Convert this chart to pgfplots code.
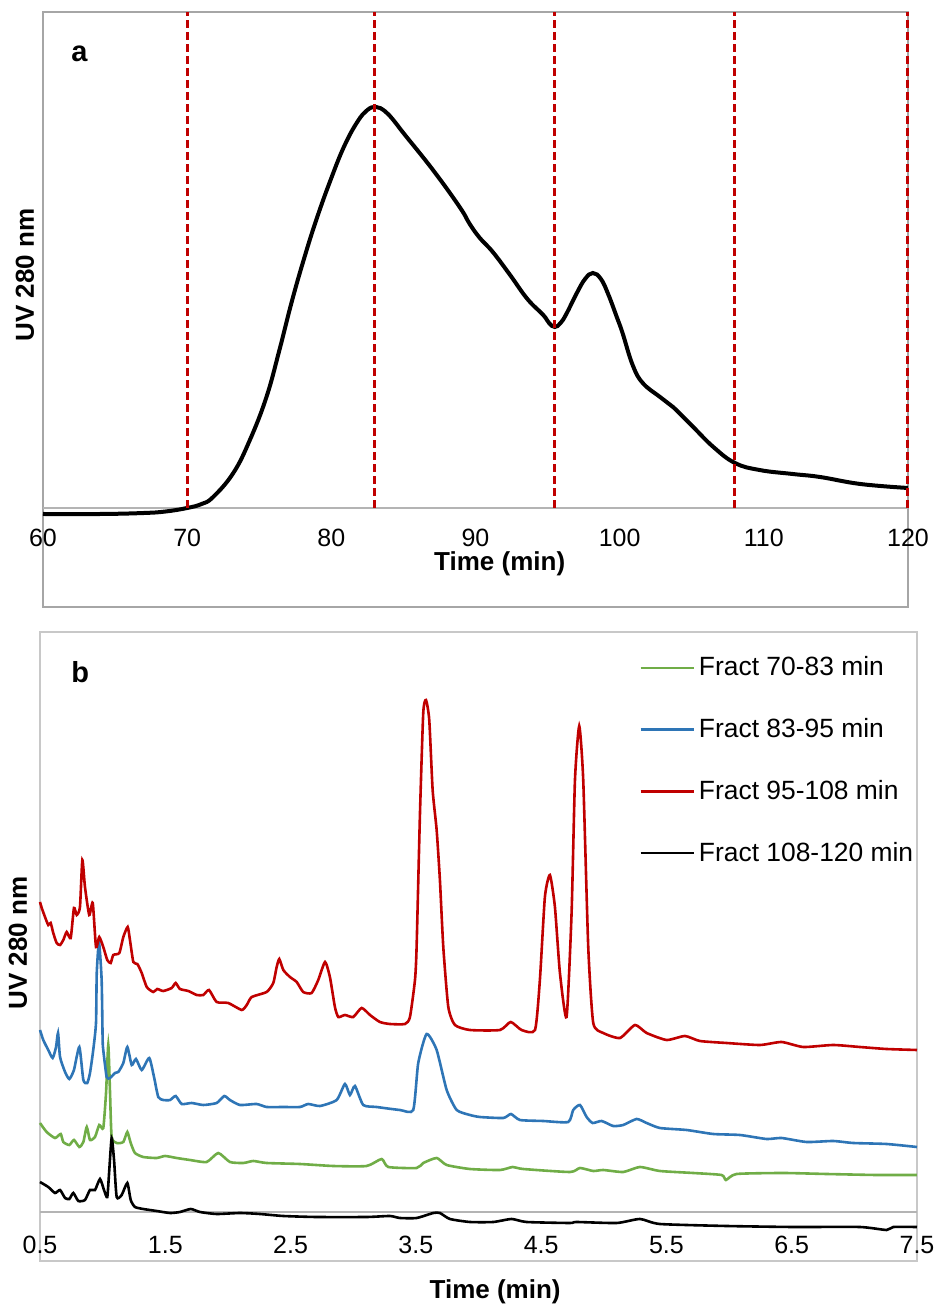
\documentclass[border=0pt]{standalone}
\usepackage{fontspec}
\setmainfont{Liberation Sans}
\usepackage{pgfplots}
\pgfplotsset{compat=1.18}
\definecolor{exred}{HTML}{C00000}
\definecolor{exblue}{HTML}{2E75B6}
\definecolor{exgreen}{HTML}{70AD47}
\definecolor{framea}{HTML}{A6A6A6}
\definecolor{frameb}{HTML}{C8C8C8}
\definecolor{zeroline}{HTML}{B4B4B4}

\begin{document}
\begin{tikzpicture}[x=1pt,y=1pt]
\useasboundingbox (0,0) rectangle (468.5,654);
% chart-area frames
\draw[framea, line width=0.75pt] (21.5,350.5) rectangle (454,648);
\draw[frameb, line width=0.75pt] (20,23.5) rectangle (458.5,338);

% ---------- panel a ----------
\begin{axis}[at={(21.5pt,394pt)}, anchor=south west, scale only axis,
 width=432.5pt, height=254pt, xmin=60, xmax=120, ymin=-12, ymax=496,
 clip=false, axis line style={draw=none}, ytick=\empty,
 xtick={60,70,80,90,100,110,120}, xticklabels={60,70,80,90,100,110,120},
 major tick length=0pt,
 tick label style={font=\fontsize{12.5}{15}\selectfont},
 xticklabel style={yshift=-1pt},
 xlabel={Time (min)}, ylabel={UV 280 nm},
 label style={font=\bfseries\fontsize{13}{15}\selectfont},
 xlabel style={at={(axis description cs:0.528,-0.0866)}, anchor=center},
 ylabel style={at={(axis description cs:-0.0208,0.482)}, anchor=center}]
\addplot[zeroline, line width=0.75pt] coordinates {(60,0) (120,0)};
\addplot[black, line width=2pt, smooth, tension=0.7] coordinates {
 (60,-6) (64,-6) (67,-5) (68.5,-3.5) (70,0) (71,4) (71.8,11) (73.2,35)
 (74.35,68) (75.5,111) (76.4,158) (77.25,206) (78.1,249) (79.0,290)
 (80.0,330) (80.9,362) (81.8,386) (82.5,398) (83.1,401) (83.7,397)
 (84.3,388) (85.0,375) (87.05,338)
 (88.9,301) (89.6,284) (90.3,270) (91.2,256) (92.4,233) (93.6,209)
 (94.7,193) (95.1,185) (95.5,181) (95.9,185) (96.3,194) (97.03,215)
 (97.6,229) (98.14,235) (98.7,229) (99.2,214)
 (99.8,191) (100.2,175) (100.9,143) (101.6,125) (102.8,111) (103.7,101)
 (105.1,81) (106.5,61) (108,45) (109.7,38) (112,34) (113.9,31)
 (116.7,24) (120,20)};
\addplot[exred, line width=1.5pt, dash pattern=on 4pt off 2pt] coordinates {(70,0) (70,496)};
\addplot[exred, line width=1.5pt, dash pattern=on 4pt off 2pt] coordinates {(83,0) (83,496)};
\addplot[exred, line width=1.5pt, dash pattern=on 4pt off 2pt] coordinates {(95.5,0) (95.5,496)};
\addplot[exred, line width=1.5pt, dash pattern=on 4pt off 2pt] coordinates {(108,0) (108,496)};
\addplot[exred, line width=1.5pt, dash pattern=on 4pt off 2pt] coordinates {(120,0) (120,496)};
\node[anchor=base west, inner sep=0pt, font=\bfseries\fontsize{14.5}{16}\selectfont]
 at (rel axis cs:0.0324,0.9035) {a};
\end{axis}

% ---------- panel b ----------
\begin{axis}[at={(20pt,38pt)}, anchor=south west, scale only axis,
 width=438.5pt, height=296pt, xmin=0.5, xmax=7.5, ymin=-20, ymax=572,
 clip=false, axis line style={draw=none}, ytick=\empty,
 xtick={0.5,1.5,2.5,3.5,4.5,5.5,6.5,7.5},
 xticklabels={0.5,1.5,2.5,3.5,4.5,5.5,6.5,7.5},
 major tick length=0pt,
 tick label style={font=\fontsize{12.5}{15}\selectfont},
 xticklabel style={yshift=1.5pt},
 xlabel={Time (min)}, ylabel={UV 280 nm},
 label style={font=\bfseries\fontsize{13}{15}\selectfont},
 xlabel style={at={(axis description cs:0.519,-0.101)}, anchor=center},
 ylabel style={at={(axis description cs:-0.0251,0.488)}, anchor=center},
 legend style={at={(rel axis cs:0.683,0.979)}, anchor=north west,
   draw=none, fill=none, inner sep=0pt, row sep=15.8pt, column sep=0pt,
   font=\fontsize{13.2}{15}\selectfont},
 legend cell align=left,
 legend image code/.code={\draw[#1] (0pt,0pt) -- (26.5pt,0pt);},
 every axis plot/.append style={line width=1.3pt, smooth, tension=0.35}]
\addplot[zeroline, line width=0.75pt, sharp plot, forget plot] coordinates {(0.5,0) (7.5,0)};
\addplot[exgreen] coordinates {
 (0.5,89) (0.553,80) (0.620,74) (0.665,78) (0.686,70) (0.734,67) (0.771,72)
 (0.814,65) (0.846,70) (0.873,85) (0.899,72) (0.939,75) (0.973,87) (1.005,84)
 (1.027,119) (1.045,167) (1.059,119) (1.072,75) (1.112,69) (1.165,70)
 (1.197,80) (1.224,69) (1.258,59) (1.324,55) (1.431,54) (1.498,56)
 (1.591,54) (1.697,52) (1.830,50) (1.923,59) (2.016,50) (2.123,49)
 (2.203,51) (2.309,49) (2.575,48) (2.841,46) (3.107,46) (3.227,53)
 (3.280,45) (3.506,44) (3.559,49) (3.666,54) (3.746,47) (3.932,43)
 (4.171,42) (4.273,45) (4.357,43) (4.730,40) (4.810,44) (4.916,41)
 (4.996,42) (5.155,40) (5.288,45) (5.448,41) (5.714,39) (5.940,37)
 (5.975,32) (6.060,38) (6.432,39) (6.778,38) (7.177,37) (7.5,37)};
\addlegendentry{Fract 70-83 min}
\addplot[exblue] coordinates {
 (0.5,182) (0.526,172) (0.566,162) (0.601,154) (0.628,165) (0.644,179)
 (0.660,155) (0.700,140) (0.734,133) (0.771,142) (0.814,165) (0.846,132)
 (0.877,129) (0.899,139) (0.925,162) (0.947,189) (0.953,239) (0.971,270)
 (0.992,232) (1.000,172) (1.005,162) (1.032,135) (1.059,134) (1.099,139)
 (1.125,140) (1.165,149) (1.197,165) (1.232,147) (1.266,153) (1.312,142)
 (1.372,154) (1.410,135) (1.444,115) (1.484,112) (1.538,112) (1.583,116)
 (1.631,108) (1.711,109) (1.803,107) (1.910,109) (1.971,116) (2.016,112)
 (2.096,107) (2.229,108) (2.309,105) (2.442,105) (2.575,105) (2.641,108)
 (2.735,106) (2.868,112) (2.934,128) (2.974,117) (3.014,126) (3.080,107)
 (3.187,105) (3.373,102) (3.479,102) (3.519,149) (3.586,178) (3.666,162)
 (3.746,122) (3.826,102) (3.932,97) (4.012,95) (4.198,94) (4.259,98)
 (4.331,92) (4.517,91) (4.716,90) (4.756,102) (4.810,107) (4.863,95)
 (4.911,89) (4.983,91) (5.075,86) (5.155,87) (5.262,93) (5.342,89)
 (5.448,84) (5.661,82) (5.874,78) (6.087,77) (6.300,73) (6.419,74)
 (6.619,70) (6.831,71) (6.991,69) (7.257,68) (7.5,65)};
\addlegendentry{Fract 83-95 min}
\addplot[exred] coordinates {
 (0.5,310) (0.514,304) (0.540,295) (0.566,287) (0.585,289) (0.606,279)
 (0.633,269) (0.660,267) (0.686,272) (0.713,280) (0.745,274) (0.771,304)
 (0.793,297) (0.819,305) (0.838,352) (0.859,325) (0.893,297) (0.921,309)
 (0.947,265) (0.973,275) (1.005,265) (1.037,252) (1.064,249) (1.085,257)
 (1.133,259) (1.165,275) (1.200,285) (1.218,272) (1.245,250) (1.277,248)
 (1.312,239) (1.352,225) (1.404,220) (1.436,223) (1.484,221) (1.551,224)
 (1.583,229) (1.617,223) (1.684,221) (1.751,217) (1.803,217) (1.849,222)
 (1.910,210) (2.003,209) (2.110,202) (2.150,207) (2.190,215) (2.309,220)
 (2.362,229) (2.389,245) (2.410,253) (2.442,242) (2.495,235) (2.549,230)
 (2.601,220) (2.668,219) (2.721,232) (2.775,250) (2.814,235) (2.854,205)
 (2.881,195) (2.934,197) (3.000,195) (3.067,204) (3.134,197) (3.213,190)
 (3.293,188) (3.413,188) (3.453,195) (3.493,232) (3.506,265) (3.533,399)
 (3.559,499) (3.581,512) (3.607,492) (3.634,422) (3.666,382) (3.692,332)
 (3.719,265) (3.759,205) (3.812,187) (3.932,182) (4.171,182) (4.257,190)
 (4.344,182) (4.451,182) (4.490,232) (4.530,315) (4.570,337) (4.610,305)
 (4.650,239) (4.703,195) (4.743,299) (4.770,432) (4.804,486) (4.836,432)
 (4.876,265) (4.916,189) (4.996,179) (5.129,174) (5.249,187) (5.342,179)
 (5.502,172) (5.648,176) (5.767,171) (5.980,169) (6.246,167) (6.419,170)
 (6.592,165) (6.831,167) (7.044,165) (7.257,163) (7.5,162)};
\addlegendentry{Fract 95-108 min}
\addplot[black] coordinates {
 (0.5,30) (0.566,25) (0.620,19) (0.660,22) (0.700,14) (0.734,13) (0.766,19)
 (0.806,11) (0.859,12) (0.899,22) (0.939,22) (0.979,33) (1.011,22)
 (1.037,15) (1.053,42) (1.072,74) (1.091,52) (1.112,15) (1.152,17)
 (1.197,29) (1.224,12) (1.258,5) (1.324,3) (1.431,1) (1.538,-1) (1.617,0)
 (1.703,3) (1.777,0) (1.910,-2) (2.096,-1) (2.256,-2) (2.442,-4)
 (2.708,-5) (3.107,-5) (3.293,-4) (3.373,-6) (3.506,-6) (3.639,-1)
 (3.692,-1) (3.772,-7) (3.932,-10) (4.118,-10) (4.264,-7) (4.384,-10)
 (4.730,-11) (4.782,-10) (5.103,-11) (5.288,-7) (5.448,-12) (5.980,-14)
 (6.512,-15) (7.044,-15) (7.257,-18) (7.310,-15) (7.5,-15)};
\addlegendentry{Fract 108-120 min}
\node[anchor=base west, inner sep=0pt, font=\bfseries\fontsize{14.5}{16}\selectfont]
 at (rel axis cs:0.0353,0.929) {b};
\end{axis}
\end{tikzpicture}
\end{document}
